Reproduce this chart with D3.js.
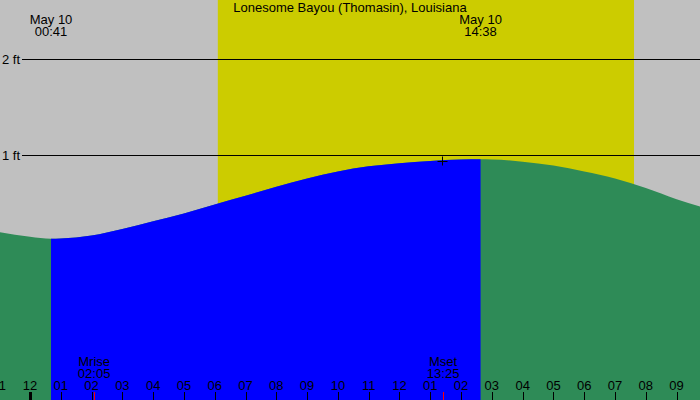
<!DOCTYPE html>
<html>
<head>
<meta charset="utf-8">
<script src="https://cdn.jsdelivr.net/npm/d3@7"></script>
<style>
  html, body { margin: 0; padding: 0; background: #fff; }
  svg { display: block; font-family: "Liberation Sans", Arial, sans-serif; }
</style>
</head>
<body>
<svg id="chart" width="700" height="400"></svg>
<script>
// Station title
const title = 'Lonesome Bayou (Thomasin), Louisiana';

// Tide heights (ft), hours after midnight May 10
const tideHours = [-1, 0, 0.683, 1, 2, 3, 4, 5, 6, 7, 8, 9, 10, 11, 12, 13, 14, 14.633, 15, 16, 17, 18, 19, 20, 21, 22];
const tideFeet = [0.196, 0.148, 0.128, 0.130, 0.161, 0.229, 0.309, 0.390, 0.485, 0.576, 0.668, 0.755, 0.828, 0.882, 0.915, 0.938, 0.952, 0.955, 0.954, 0.930, 0.890, 0.828, 0.755, 0.656, 0.540, 0.440];

// Low / high tide events
const eventHours = [0.683, 14.633];
const eventDates = ['May 10', 'May 10'];
const eventTimes = ['00:41', '14:38'];

// Sun and moon
const sunriseHour = 6.1;
const sunsetHour = 19.617;
const moonHours = [2.083, 13.417];
const moonNames = ['Mrise', 'Mset'];
const moonTimes = ['02:05', '13:25'];

// Current-position marker
const markerHour = 13.38;
const markerFeet = 0.94;

// Axis ticks
const hourTicks = d3.range(-1, 23);
const feetTicks = [0, 1, 2];

const W = 700, H = 400;
const FS = 13;
const svg = d3.select('#chart');

const x = d3.scaleLinear().domain([-0.974, 21.76]).range([0, W]);
const y = d3.scaleLinear().domain([0, 2]).range([251, 59]);

const tide = tideHours.map((h, i) => ({ h, v: tideFeet[i] }));

// background: night and day
svg.append('rect').attr('width', W).attr('height', H).attr('fill', '#c0c0c0');
svg.append('rect')
    .attr('x', x(sunriseHour)).attr('y', 0)
    .attr('width', x(sunsetHour) - x(sunriseHour)).attr('height', H)
    .attr('fill', '#cccc00');

// feet grid lines
svg.append('g').selectAll('line')
    .data(feetTicks)
    .join('line')
    .attr('x1', 22).attr('x2', W)
    .attr('y1', d => y(d) + 0.5).attr('y2', d => y(d) + 0.5)
    .attr('stroke', '#000').attr('stroke-width', 1);

svg.append('g').selectAll('text')
    .data(feetTicks)
    .join('text')
    .attr('x', 20).attr('y', d => y(d) + 5)
    .attr('text-anchor', 'end')
    .attr('font-size', FS)
    .text(d => d + ' ft');

// water
const area = d3.area()
    .x(d => x(d.h))
    .y0(H)
    .y1(d => y(d.v))
    .curve(d3.curveMonotoneX);

svg.append('defs').append('clipPath').attr('id', 'rising')
    .append('rect')
    .attr('x', x(eventHours[0])).attr('y', 0)
    .attr('width', x(eventHours[1]) - x(eventHours[0])).attr('height', H);

svg.append('path').datum(tide).attr('d', area).attr('fill', '#2e8b57');
svg.append('path').datum(tide).attr('d', area).attr('fill', '#0000ff')
    .attr('clip-path', 'url(#rising)');

// marker
const mx = Math.round(x(markerHour)) + 0.5, my = Math.round(y(markerFeet)) + 0.5;
svg.append('path')
    .attr('d', `M${mx - 5},${my}H${mx + 5}M${mx},${my - 5}V${my + 4}`)
    .attr('stroke', '#000').attr('stroke-width', 1);

// title
svg.append('text')
    .attr('x', W / 2).attr('y', 12)
    .attr('text-anchor', 'middle').attr('font-size', FS)
    .text(title);

// tide event labels
const ev = svg.append('g').selectAll('g')
    .data(eventHours)
    .join('g')
    .attr('transform', d => `translate(${x(d)},0)`);
ev.append('text').attr('y', 24).attr('text-anchor', 'middle').attr('font-size', FS)
    .text((d, i) => eventDates[i]);
ev.append('text').attr('y', 36).attr('text-anchor', 'middle').attr('font-size', FS)
    .text((d, i) => eventTimes[i]);

// moon labels
const mo = svg.append('g').selectAll('g')
    .data(moonHours)
    .join('g')
    .attr('transform', d => `translate(${x(d)},0)`);
mo.append('text').attr('y', 366).attr('text-anchor', 'middle').attr('font-size', FS)
    .text((d, i) => moonNames[i]);
mo.append('text').attr('y', 378).attr('text-anchor', 'middle').attr('font-size', FS)
    .text((d, i) => moonTimes[i]);

// hour axis
const hourLabel = h => {
    const m = ((h % 12) + 12) % 12;
    return d3.format('02d')(m === 0 ? 12 : m);
};

svg.append('g').selectAll('line')
    .data(hourTicks)
    .join('line')
    .attr('x1', d => Math.round(x(d)) + 0.5).attr('x2', d => Math.round(x(d)) + 0.5)
    .attr('y1', 392).attr('y2', H)
    .attr('stroke', '#000')
    .attr('stroke-width', d => (d % 24 === 0 ? 3 : 1));

svg.append('g').selectAll('text')
    .data(hourTicks)
    .join('text')
    .attr('x', d => x(d)).attr('y', 390)
    .attr('text-anchor', 'middle').attr('font-size', FS)
    .text(hourLabel);

svg.append('g').selectAll('line')
    .data(moonHours)
    .join('line')
    .attr('x1', d => Math.round(x(d)) + 0.5).attr('x2', d => Math.round(x(d)) + 0.5)
    .attr('y1', 392).attr('y2', H)
    .attr('stroke', '#ff0000').attr('stroke-width', 1);
</script>
</body>
</html>
